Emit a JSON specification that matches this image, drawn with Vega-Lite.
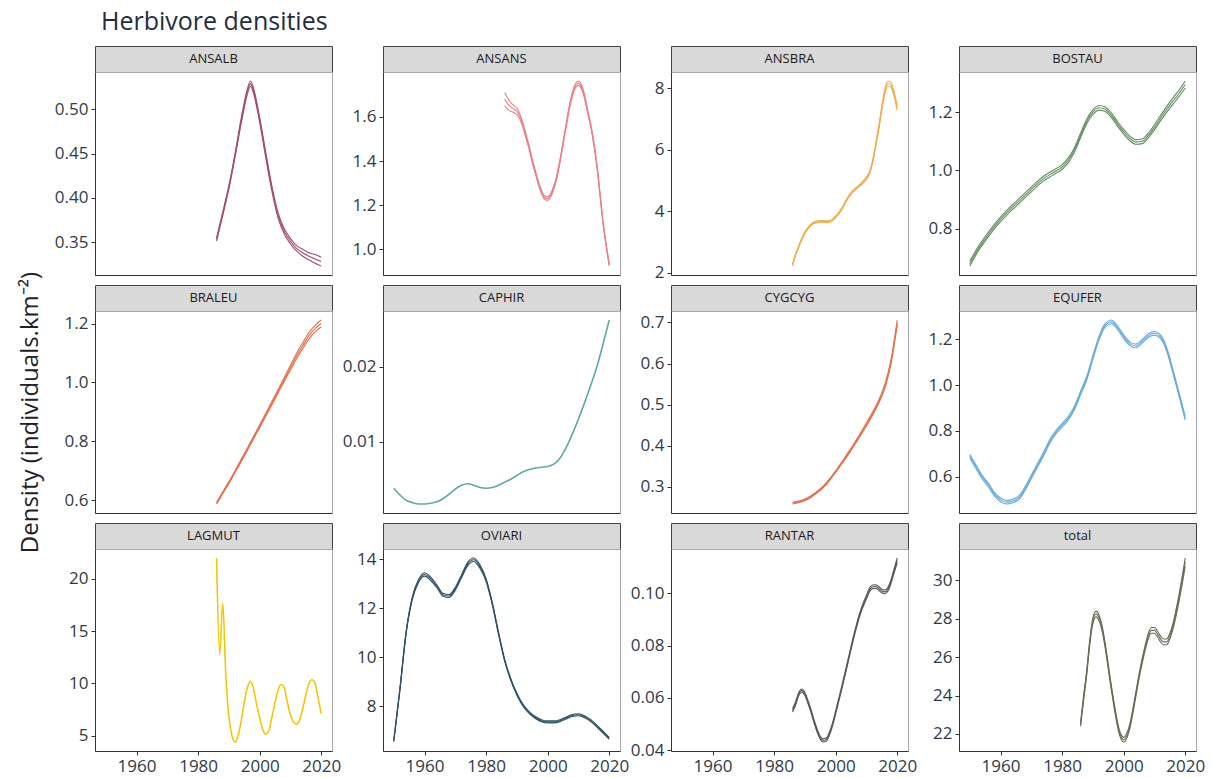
{
"$schema": "https://vega.github.io/schema/vega-lite/v6.json",
"background": "white",
"padding": {"left": 17, "top": 9, "right": 5, "bottom": 5},
"title": {"text": "Herbivore densities", "anchor": "start", "frame": "group", "fontSize": 25, "fontWeight": "normal", "font": "Open Sans", "color": "#1f2d3d", "offset": 11, "dx": 6},
"datasets": {
"labels": [{"sp":"ANSALB"},{"sp":"ANSANS"},{"sp":"ANSBRA"},{"sp":"BOSTAU"},{"sp":"BRALEU"},{"sp":"CAPHIR"},{"sp":"CYGCYG"},{"sp":"EQUFER"},{"sp":"LAGMUT"},{"sp":"OVIARI"},{"sp":"RANTAR"},{"sp":"total"}],
"curves": [
{"sp":"ANSALB","year":1986,"lo":0.351,"mid":0.353,"hi":0.355},
{"sp":"ANSALB","year":1988,"lo":0.380,"mid":0.382,"hi":0.384},
{"sp":"ANSALB","year":1990,"lo":0.410,"mid":0.412,"hi":0.414},
{"sp":"ANSALB","year":1992,"lo":0.446,"mid":0.448,"hi":0.450},
{"sp":"ANSALB","year":1994,"lo":0.484,"mid":0.487,"hi":0.490},
{"sp":"ANSALB","year":1996,"lo":0.517,"mid":0.520,"hi":0.523},
{"sp":"ANSALB","year":1997,"lo":0.526,"mid":0.529,"hi":0.532},
{"sp":"ANSALB","year":1998,"lo":0.518,"mid":0.521,"hi":0.524},
{"sp":"ANSALB","year":2000,"lo":0.485,"mid":0.488,"hi":0.491},
{"sp":"ANSALB","year":2002,"lo":0.445,"mid":0.448,"hi":0.451},
{"sp":"ANSALB","year":2004,"lo":0.407,"mid":0.410,"hi":0.413},
{"sp":"ANSALB","year":2006,"lo":0.377,"mid":0.380,"hi":0.383},
{"sp":"ANSALB","year":2008,"lo":0.359,"mid":0.362,"hi":0.365},
{"sp":"ANSALB","year":2010,"lo":0.348,"mid":0.351,"hi":0.354},
{"sp":"ANSALB","year":2012,"lo":0.340,"mid":0.343,"hi":0.346},
{"sp":"ANSALB","year":2014,"lo":0.334,"mid":0.338,"hi":0.342},
{"sp":"ANSALB","year":2016,"lo":0.330,"mid":0.334,"hi":0.338},
{"sp":"ANSALB","year":2018,"lo":0.326,"mid":0.331,"hi":0.336},
{"sp":"ANSALB","year":2020,"lo":0.323,"mid":0.328,"hi":0.333},
{"sp":"ANSANS","year":1986,"lo":1.65,"mid":1.68,"hi":1.71},
{"sp":"ANSANS","year":1987,"lo":1.635,"mid":1.66,"hi":1.685},
{"sp":"ANSANS","year":1988,"lo":1.625,"mid":1.645,"hi":1.665},
{"sp":"ANSANS","year":1989,"lo":1.619,"mid":1.635,"hi":1.651},
{"sp":"ANSANS","year":1990,"lo":1.611,"mid":1.625,"hi":1.639},
{"sp":"ANSANS","year":1991,"lo":1.588,"mid":1.60,"hi":1.612},
{"sp":"ANSANS","year":1992,"lo":1.55,"mid":1.56,"hi":1.57},
{"sp":"ANSANS","year":1993,"lo":1.50,"mid":1.51,"hi":1.52},
{"sp":"ANSANS","year":1994,"lo":1.452,"mid":1.46,"hi":1.468},
{"sp":"ANSANS","year":1995,"lo":1.392,"mid":1.40,"hi":1.408},
{"sp":"ANSANS","year":1996,"lo":1.342,"mid":1.35,"hi":1.358},
{"sp":"ANSANS","year":1997,"lo":1.292,"mid":1.30,"hi":1.308},
{"sp":"ANSANS","year":1998,"lo":1.252,"mid":1.26,"hi":1.268},
{"sp":"ANSANS","year":1999,"lo":1.227,"mid":1.235,"hi":1.243},
{"sp":"ANSANS","year":2000,"lo":1.222,"mid":1.23,"hi":1.238},
{"sp":"ANSANS","year":2001,"lo":1.237,"mid":1.245,"hi":1.253},
{"sp":"ANSANS","year":2002,"lo":1.272,"mid":1.28,"hi":1.288},
{"sp":"ANSANS","year":2003,"lo":1.322,"mid":1.33,"hi":1.338},
{"sp":"ANSANS","year":2004,"lo":1.392,"mid":1.40,"hi":1.408},
{"sp":"ANSANS","year":2005,"lo":1.472,"mid":1.48,"hi":1.488},
{"sp":"ANSANS","year":2006,"lo":1.552,"mid":1.56,"hi":1.568},
{"sp":"ANSANS","year":2007,"lo":1.632,"mid":1.64,"hi":1.648},
{"sp":"ANSANS","year":2008,"lo":1.69,"mid":1.70,"hi":1.71},
{"sp":"ANSANS","year":2009,"lo":1.73,"mid":1.74,"hi":1.75},
{"sp":"ANSANS","year":2010,"lo":1.742,"mid":1.752,"hi":1.762},
{"sp":"ANSANS","year":2011,"lo":1.725,"mid":1.735,"hi":1.745},
{"sp":"ANSANS","year":2012,"lo":1.68,"mid":1.69,"hi":1.70},
{"sp":"ANSANS","year":2013,"lo":1.617,"mid":1.625,"hi":1.633},
{"sp":"ANSANS","year":2014,"lo":1.552,"mid":1.56,"hi":1.568},
{"sp":"ANSANS","year":2015,"lo":1.472,"mid":1.48,"hi":1.488},
{"sp":"ANSANS","year":2016,"lo":1.372,"mid":1.38,"hi":1.388},
{"sp":"ANSANS","year":2017,"lo":1.243,"mid":1.25,"hi":1.257},
{"sp":"ANSANS","year":2018,"lo":1.114,"mid":1.12,"hi":1.126},
{"sp":"ANSANS","year":2019,"lo":1.014,"mid":1.02,"hi":1.026},
{"sp":"ANSANS","year":2020,"lo":0.925,"mid":0.93,"hi":0.935},
{"sp":"ANSBRA","year":1986,"lo":2.22,"mid":2.25,"hi":2.28},
{"sp":"ANSBRA","year":1987,"lo":2.57,"mid":2.60,"hi":2.63},
{"sp":"ANSBRA","year":1988,"lo":2.82,"mid":2.85,"hi":2.88},
{"sp":"ANSBRA","year":1989,"lo":3.07,"mid":3.10,"hi":3.13},
{"sp":"ANSBRA","year":1990,"lo":3.27,"mid":3.30,"hi":3.33},
{"sp":"ANSBRA","year":1991,"lo":3.42,"mid":3.45,"hi":3.48},
{"sp":"ANSBRA","year":1992,"lo":3.53,"mid":3.56,"hi":3.59},
{"sp":"ANSBRA","year":1993,"lo":3.60,"mid":3.63,"hi":3.66},
{"sp":"ANSBRA","year":1994,"lo":3.63,"mid":3.66,"hi":3.69},
{"sp":"ANSBRA","year":1995,"lo":3.64,"mid":3.67,"hi":3.70},
{"sp":"ANSBRA","year":1996,"lo":3.64,"mid":3.67,"hi":3.70},
{"sp":"ANSBRA","year":1997,"lo":3.63,"mid":3.66,"hi":3.69},
{"sp":"ANSBRA","year":1998,"lo":3.64,"mid":3.67,"hi":3.70},
{"sp":"ANSBRA","year":1999,"lo":3.69,"mid":3.72,"hi":3.75},
{"sp":"ANSBRA","year":2000,"lo":3.79,"mid":3.82,"hi":3.85},
{"sp":"ANSBRA","year":2001,"lo":3.90,"mid":3.93,"hi":3.96},
{"sp":"ANSBRA","year":2002,"lo":4.05,"mid":4.08,"hi":4.11},
{"sp":"ANSBRA","year":2003,"lo":4.24,"mid":4.27,"hi":4.30},
{"sp":"ANSBRA","year":2004,"lo":4.41,"mid":4.44,"hi":4.47},
{"sp":"ANSBRA","year":2005,"lo":4.55,"mid":4.58,"hi":4.61},
{"sp":"ANSBRA","year":2006,"lo":4.65,"mid":4.68,"hi":4.71},
{"sp":"ANSBRA","year":2007,"lo":4.74,"mid":4.77,"hi":4.80},
{"sp":"ANSBRA","year":2008,"lo":4.83,"mid":4.86,"hi":4.89},
{"sp":"ANSBRA","year":2009,"lo":4.91,"mid":4.95,"hi":4.99},
{"sp":"ANSBRA","year":2010,"lo":5.04,"mid":5.08,"hi":5.12},
{"sp":"ANSBRA","year":2011,"lo":5.21,"mid":5.25,"hi":5.29},
{"sp":"ANSBRA","year":2012,"lo":5.55,"mid":5.60,"hi":5.65},
{"sp":"ANSBRA","year":2013,"lo":6.09,"mid":6.15,"hi":6.21},
{"sp":"ANSBRA","year":2014,"lo":6.63,"mid":6.70,"hi":6.77},
{"sp":"ANSBRA","year":2015,"lo":7.27,"mid":7.35,"hi":7.43},
{"sp":"ANSBRA","year":2016,"lo":7.82,"mid":7.90,"hi":7.98},
{"sp":"ANSBRA","year":2017,"lo":8.07,"mid":8.15,"hi":8.23},
{"sp":"ANSBRA","year":2018,"lo":8.02,"mid":8.10,"hi":8.18},
{"sp":"ANSBRA","year":2019,"lo":7.72,"mid":7.80,"hi":7.88},
{"sp":"ANSBRA","year":2020,"lo":7.27,"mid":7.35,"hi":7.43},
{"sp":"BOSTAU","year":1950,"lo":0.672,"mid":0.680,"hi":0.688},
{"sp":"BOSTAU","year":1953,"lo":0.727,"mid":0.735,"hi":0.743},
{"sp":"BOSTAU","year":1956,"lo":0.772,"mid":0.780,"hi":0.788},
{"sp":"BOSTAU","year":1959,"lo":0.812,"mid":0.820,"hi":0.828},
{"sp":"BOSTAU","year":1962,"lo":0.847,"mid":0.855,"hi":0.863},
{"sp":"BOSTAU","year":1965,"lo":0.877,"mid":0.885,"hi":0.893},
{"sp":"BOSTAU","year":1968,"lo":0.907,"mid":0.915,"hi":0.923},
{"sp":"BOSTAU","year":1971,"lo":0.937,"mid":0.945,"hi":0.953},
{"sp":"BOSTAU","year":1974,"lo":0.964,"mid":0.972,"hi":0.980},
{"sp":"BOSTAU","year":1977,"lo":0.984,"mid":0.992,"hi":1.000},
{"sp":"BOSTAU","year":1980,"lo":1.004,"mid":1.012,"hi":1.020},
{"sp":"BOSTAU","year":1982,"lo":1.027,"mid":1.035,"hi":1.043},
{"sp":"BOSTAU","year":1984,"lo":1.062,"mid":1.070,"hi":1.078},
{"sp":"BOSTAU","year":1986,"lo":1.112,"mid":1.120,"hi":1.128},
{"sp":"BOSTAU","year":1988,"lo":1.160,"mid":1.168,"hi":1.176},
{"sp":"BOSTAU","year":1990,"lo":1.192,"mid":1.200,"hi":1.208},
{"sp":"BOSTAU","year":1992,"lo":1.207,"mid":1.215,"hi":1.223},
{"sp":"BOSTAU","year":1994,"lo":1.202,"mid":1.210,"hi":1.218},
{"sp":"BOSTAU","year":1996,"lo":1.182,"mid":1.190,"hi":1.198},
{"sp":"BOSTAU","year":1998,"lo":1.152,"mid":1.160,"hi":1.168},
{"sp":"BOSTAU","year":2000,"lo":1.125,"mid":1.133,"hi":1.141},
{"sp":"BOSTAU","year":2002,"lo":1.102,"mid":1.110,"hi":1.118},
{"sp":"BOSTAU","year":2004,"lo":1.090,"mid":1.098,"hi":1.106},
{"sp":"BOSTAU","year":2006,"lo":1.092,"mid":1.100,"hi":1.108},
{"sp":"BOSTAU","year":2008,"lo":1.112,"mid":1.120,"hi":1.128},
{"sp":"BOSTAU","year":2010,"lo":1.139,"mid":1.148,"hi":1.157},
{"sp":"BOSTAU","year":2012,"lo":1.171,"mid":1.180,"hi":1.189},
{"sp":"BOSTAU","year":2014,"lo":1.200,"mid":1.210,"hi":1.220},
{"sp":"BOSTAU","year":2016,"lo":1.227,"mid":1.238,"hi":1.249},
{"sp":"BOSTAU","year":2018,"lo":1.254,"mid":1.265,"hi":1.276},
{"sp":"BOSTAU","year":2020,"lo":1.283,"mid":1.295,"hi":1.307},
{"sp":"BRALEU","year":1986,"lo":0.587,"mid":0.590,"hi":0.593},
{"sp":"BRALEU","year":1988,"lo":0.622,"mid":0.625,"hi":0.628},
{"sp":"BRALEU","year":1990,"lo":0.657,"mid":0.660,"hi":0.663},
{"sp":"BRALEU","year":1992,"lo":0.694,"mid":0.697,"hi":0.700},
{"sp":"BRALEU","year":1994,"lo":0.731,"mid":0.735,"hi":0.739},
{"sp":"BRALEU","year":1996,"lo":0.769,"mid":0.773,"hi":0.777},
{"sp":"BRALEU","year":1998,"lo":0.808,"mid":0.812,"hi":0.816},
{"sp":"BRALEU","year":2000,"lo":0.846,"mid":0.851,"hi":0.856},
{"sp":"BRALEU","year":2002,"lo":0.885,"mid":0.890,"hi":0.895},
{"sp":"BRALEU","year":2004,"lo":0.924,"mid":0.930,"hi":0.936},
{"sp":"BRALEU","year":2006,"lo":0.964,"mid":0.970,"hi":0.976},
{"sp":"BRALEU","year":2008,"lo":1.003,"mid":1.010,"hi":1.017},
{"sp":"BRALEU","year":2010,"lo":1.042,"mid":1.050,"hi":1.058},
{"sp":"BRALEU","year":2012,"lo":1.081,"mid":1.090,"hi":1.099},
{"sp":"BRALEU","year":2014,"lo":1.115,"mid":1.125,"hi":1.135},
{"sp":"BRALEU","year":2016,"lo":1.147,"mid":1.158,"hi":1.169},
{"sp":"BRALEU","year":2018,"lo":1.172,"mid":1.183,"hi":1.194},
{"sp":"BRALEU","year":2020,"lo":1.188,"mid":1.200,"hi":1.212},
{"sp":"CAPHIR","year":1950,"mid":0.0038},
{"sp":"CAPHIR","year":1952,"mid":0.0029},
{"sp":"CAPHIR","year":1954,"mid":0.0022},
{"sp":"CAPHIR","year":1956,"mid":0.0019},
{"sp":"CAPHIR","year":1958,"mid":0.0017},
{"sp":"CAPHIR","year":1960,"mid":0.0017},
{"sp":"CAPHIR","year":1962,"mid":0.0018},
{"sp":"CAPHIR","year":1964,"mid":0.0020},
{"sp":"CAPHIR","year":1966,"mid":0.0024},
{"sp":"CAPHIR","year":1968,"mid":0.0030},
{"sp":"CAPHIR","year":1970,"mid":0.0037},
{"sp":"CAPHIR","year":1972,"mid":0.0042},
{"sp":"CAPHIR","year":1974,"mid":0.0044},
{"sp":"CAPHIR","year":1976,"mid":0.0042},
{"sp":"CAPHIR","year":1978,"mid":0.0039},
{"sp":"CAPHIR","year":1980,"mid":0.0038},
{"sp":"CAPHIR","year":1982,"mid":0.0039},
{"sp":"CAPHIR","year":1984,"mid":0.0042},
{"sp":"CAPHIR","year":1986,"mid":0.0046},
{"sp":"CAPHIR","year":1988,"mid":0.0050},
{"sp":"CAPHIR","year":1990,"mid":0.0055},
{"sp":"CAPHIR","year":1992,"mid":0.0060},
{"sp":"CAPHIR","year":1994,"mid":0.0063},
{"sp":"CAPHIR","year":1996,"mid":0.0065},
{"sp":"CAPHIR","year":1998,"mid":0.0066},
{"sp":"CAPHIR","year":2000,"mid":0.0067},
{"sp":"CAPHIR","year":2002,"mid":0.0070},
{"sp":"CAPHIR","year":2004,"mid":0.0078},
{"sp":"CAPHIR","year":2006,"mid":0.0092},
{"sp":"CAPHIR","year":2008,"mid":0.0110},
{"sp":"CAPHIR","year":2010,"mid":0.0130},
{"sp":"CAPHIR","year":2012,"mid":0.0152},
{"sp":"CAPHIR","year":2014,"mid":0.0175},
{"sp":"CAPHIR","year":2016,"mid":0.0200},
{"sp":"CAPHIR","year":2018,"mid":0.0230},
{"sp":"CAPHIR","year":2020,"mid":0.0262},
{"sp":"CYGCYG","year":1986,"lo":0.258,"mid":0.260,"hi":0.262},
{"sp":"CYGCYG","year":1988,"lo":0.261,"mid":0.263,"hi":0.265},
{"sp":"CYGCYG","year":1990,"lo":0.266,"mid":0.268,"hi":0.270},
{"sp":"CYGCYG","year":1992,"lo":0.274,"mid":0.276,"hi":0.278},
{"sp":"CYGCYG","year":1994,"lo":0.285,"mid":0.287,"hi":0.289},
{"sp":"CYGCYG","year":1996,"lo":0.298,"mid":0.300,"hi":0.302},
{"sp":"CYGCYG","year":1998,"lo":0.315,"mid":0.317,"hi":0.319},
{"sp":"CYGCYG","year":2000,"lo":0.335,"mid":0.337,"hi":0.339},
{"sp":"CYGCYG","year":2002,"lo":0.356,"mid":0.358,"hi":0.360},
{"sp":"CYGCYG","year":2004,"lo":0.377,"mid":0.380,"hi":0.383},
{"sp":"CYGCYG","year":2006,"lo":0.400,"mid":0.403,"hi":0.406},
{"sp":"CYGCYG","year":2008,"lo":0.424,"mid":0.427,"hi":0.430},
{"sp":"CYGCYG","year":2010,"lo":0.448,"mid":0.452,"hi":0.456},
{"sp":"CYGCYG","year":2012,"lo":0.474,"mid":0.478,"hi":0.482},
{"sp":"CYGCYG","year":2014,"lo":0.503,"mid":0.507,"hi":0.511},
{"sp":"CYGCYG","year":2016,"lo":0.540,"mid":0.545,"hi":0.550},
{"sp":"CYGCYG","year":2018,"lo":0.600,"mid":0.605,"hi":0.610},
{"sp":"CYGCYG","year":2020,"lo":0.694,"mid":0.700,"hi":0.706},
{"sp":"EQUFER","year":1950,"lo":0.682,"mid":0.690,"hi":0.698},
{"sp":"EQUFER","year":1952,"lo":0.637,"mid":0.645,"hi":0.653},
{"sp":"EQUFER","year":1954,"lo":0.592,"mid":0.600,"hi":0.608},
{"sp":"EQUFER","year":1956,"lo":0.557,"mid":0.565,"hi":0.573},
{"sp":"EQUFER","year":1958,"lo":0.517,"mid":0.525,"hi":0.533},
{"sp":"EQUFER","year":1960,"lo":0.492,"mid":0.500,"hi":0.508},
{"sp":"EQUFER","year":1962,"lo":0.482,"mid":0.490,"hi":0.498},
{"sp":"EQUFER","year":1964,"lo":0.487,"mid":0.495,"hi":0.503},
{"sp":"EQUFER","year":1966,"lo":0.502,"mid":0.510,"hi":0.518},
{"sp":"EQUFER","year":1968,"lo":0.542,"mid":0.550,"hi":0.558},
{"sp":"EQUFER","year":1970,"lo":0.592,"mid":0.600,"hi":0.608},
{"sp":"EQUFER","year":1972,"lo":0.642,"mid":0.650,"hi":0.658},
{"sp":"EQUFER","year":1974,"lo":0.692,"mid":0.700,"hi":0.708},
{"sp":"EQUFER","year":1976,"lo":0.747,"mid":0.755,"hi":0.763},
{"sp":"EQUFER","year":1978,"lo":0.787,"mid":0.795,"hi":0.803},
{"sp":"EQUFER","year":1980,"lo":0.817,"mid":0.825,"hi":0.833},
{"sp":"EQUFER","year":1982,"lo":0.847,"mid":0.855,"hi":0.863},
{"sp":"EQUFER","year":1984,"lo":0.892,"mid":0.900,"hi":0.908},
{"sp":"EQUFER","year":1986,"lo":0.957,"mid":0.965,"hi":0.973},
{"sp":"EQUFER","year":1988,"lo":1.022,"mid":1.030,"hi":1.038},
{"sp":"EQUFER","year":1990,"lo":1.112,"mid":1.120,"hi":1.128},
{"sp":"EQUFER","year":1992,"lo":1.197,"mid":1.205,"hi":1.213},
{"sp":"EQUFER","year":1994,"lo":1.252,"mid":1.260,"hi":1.268},
{"sp":"EQUFER","year":1996,"lo":1.267,"mid":1.275,"hi":1.283},
{"sp":"EQUFER","year":1998,"lo":1.242,"mid":1.250,"hi":1.258},
{"sp":"EQUFER","year":2000,"lo":1.202,"mid":1.210,"hi":1.218},
{"sp":"EQUFER","year":2002,"lo":1.172,"mid":1.180,"hi":1.188},
{"sp":"EQUFER","year":2004,"lo":1.162,"mid":1.170,"hi":1.178},
{"sp":"EQUFER","year":2006,"lo":1.182,"mid":1.190,"hi":1.198},
{"sp":"EQUFER","year":2008,"lo":1.207,"mid":1.215,"hi":1.223},
{"sp":"EQUFER","year":2010,"lo":1.217,"mid":1.225,"hi":1.233},
{"sp":"EQUFER","year":2012,"lo":1.202,"mid":1.210,"hi":1.218},
{"sp":"EQUFER","year":2014,"lo":1.147,"mid":1.155,"hi":1.163},
{"sp":"EQUFER","year":2016,"lo":1.052,"mid":1.060,"hi":1.068},
{"sp":"EQUFER","year":2018,"lo":0.952,"mid":0.960,"hi":0.968},
{"sp":"EQUFER","year":2020,"lo":0.847,"mid":0.855,"hi":0.863},
{"sp":"LAGMUT","year":1986,"mid":22.0},
{"sp":"LAGMUT","year":1987,"mid":12.8},
{"sp":"LAGMUT","year":1988,"mid":17.7},
{"sp":"LAGMUT","year":1989,"mid":10.8},
{"sp":"LAGMUT","year":1990,"mid":6.8},
{"sp":"LAGMUT","year":1991,"mid":5.0},
{"sp":"LAGMUT","year":1992,"mid":4.4},
{"sp":"LAGMUT","year":1993,"mid":5.0},
{"sp":"LAGMUT","year":1994,"mid":6.4},
{"sp":"LAGMUT","year":1995,"mid":8.2},
{"sp":"LAGMUT","year":1996,"mid":9.6},
{"sp":"LAGMUT","year":1997,"mid":10.2},
{"sp":"LAGMUT","year":1998,"mid":9.5},
{"sp":"LAGMUT","year":1999,"mid":8.0},
{"sp":"LAGMUT","year":2000,"mid":6.7},
{"sp":"LAGMUT","year":2001,"mid":5.6},
{"sp":"LAGMUT","year":2002,"mid":5.15},
{"sp":"LAGMUT","year":2003,"mid":5.5},
{"sp":"LAGMUT","year":2004,"mid":6.8},
{"sp":"LAGMUT","year":2005,"mid":8.2},
{"sp":"LAGMUT","year":2006,"mid":9.4},
{"sp":"LAGMUT","year":2007,"mid":9.9},
{"sp":"LAGMUT","year":2008,"mid":9.6},
{"sp":"LAGMUT","year":2009,"mid":8.2},
{"sp":"LAGMUT","year":2010,"mid":7.0},
{"sp":"LAGMUT","year":2011,"mid":6.3},
{"sp":"LAGMUT","year":2012,"mid":6.1},
{"sp":"LAGMUT","year":2013,"mid":6.5},
{"sp":"LAGMUT","year":2014,"mid":7.6},
{"sp":"LAGMUT","year":2015,"mid":8.9},
{"sp":"LAGMUT","year":2016,"mid":10.0},
{"sp":"LAGMUT","year":2017,"mid":10.35},
{"sp":"LAGMUT","year":2018,"mid":10.0},
{"sp":"LAGMUT","year":2019,"mid":8.6},
{"sp":"LAGMUT","year":2020,"mid":7.1},
{"sp":"OVIARI","year":1950,"lo":6.55,"mid":6.6,"hi":6.65},
{"sp":"OVIARI","year":1952,"lo":8.65,"mid":8.7,"hi":8.75},
{"sp":"OVIARI","year":1954,"lo":10.95,"mid":11.0,"hi":11.05},
{"sp":"OVIARI","year":1956,"lo":12.34,"mid":12.4,"hi":12.46},
{"sp":"OVIARI","year":1958,"lo":13.04,"mid":13.1,"hi":13.16},
{"sp":"OVIARI","year":1960,"lo":13.31,"mid":13.38,"hi":13.45},
{"sp":"OVIARI","year":1962,"lo":13.13,"mid":13.2,"hi":13.27},
{"sp":"OVIARI","year":1964,"lo":12.84,"mid":12.9,"hi":12.96},
{"sp":"OVIARI","year":1966,"lo":12.49,"mid":12.55,"hi":12.61},
{"sp":"OVIARI","year":1968,"lo":12.44,"mid":12.5,"hi":12.56},
{"sp":"OVIARI","year":1970,"lo":12.74,"mid":12.8,"hi":12.86},
{"sp":"OVIARI","year":1972,"lo":13.24,"mid":13.3,"hi":13.36},
{"sp":"OVIARI","year":1974,"lo":13.73,"mid":13.8,"hi":13.87},
{"sp":"OVIARI","year":1976,"lo":13.91,"mid":13.98,"hi":14.05},
{"sp":"OVIARI","year":1978,"lo":13.63,"mid":13.7,"hi":13.77},
{"sp":"OVIARI","year":1980,"lo":13.09,"mid":13.15,"hi":13.21},
{"sp":"OVIARI","year":1982,"lo":12.15,"mid":12.2,"hi":12.25},
{"sp":"OVIARI","year":1984,"lo":10.95,"mid":11.0,"hi":11.05},
{"sp":"OVIARI","year":1986,"lo":9.86,"mid":9.9,"hi":9.94},
{"sp":"OVIARI","year":1988,"lo":9.06,"mid":9.1,"hi":9.14},
{"sp":"OVIARI","year":1990,"lo":8.46,"mid":8.5,"hi":8.54},
{"sp":"OVIARI","year":1992,"lo":8.01,"mid":8.05,"hi":8.09},
{"sp":"OVIARI","year":1994,"lo":7.71,"mid":7.75,"hi":7.79},
{"sp":"OVIARI","year":1996,"lo":7.51,"mid":7.55,"hi":7.59},
{"sp":"OVIARI","year":1998,"lo":7.38,"mid":7.42,"hi":7.46},
{"sp":"OVIARI","year":2000,"lo":7.33,"mid":7.37,"hi":7.41},
{"sp":"OVIARI","year":2002,"lo":7.33,"mid":7.37,"hi":7.41},
{"sp":"OVIARI","year":2004,"lo":7.38,"mid":7.42,"hi":7.46},
{"sp":"OVIARI","year":2006,"lo":7.49,"mid":7.53,"hi":7.57},
{"sp":"OVIARI","year":2008,"lo":7.59,"mid":7.63,"hi":7.67},
{"sp":"OVIARI","year":2010,"lo":7.62,"mid":7.66,"hi":7.70},
{"sp":"OVIARI","year":2012,"lo":7.54,"mid":7.58,"hi":7.62},
{"sp":"OVIARI","year":2014,"lo":7.38,"mid":7.42,"hi":7.46},
{"sp":"OVIARI","year":2016,"lo":7.16,"mid":7.2,"hi":7.24},
{"sp":"OVIARI","year":2018,"lo":6.91,"mid":6.95,"hi":6.99},
{"sp":"OVIARI","year":2020,"lo":6.66,"mid":6.7,"hi":6.74},
{"sp":"RANTAR","year":1986,"lo":0.0546,"mid":0.0553,"hi":0.0560},
{"sp":"RANTAR","year":1987,"lo":0.0573,"mid":0.0580,"hi":0.0587},
{"sp":"RANTAR","year":1988,"lo":0.0609,"mid":0.0615,"hi":0.0621},
{"sp":"RANTAR","year":1989,"lo":0.0622,"mid":0.0628,"hi":0.0634},
{"sp":"RANTAR","year":1990,"lo":0.0609,"mid":0.0615,"hi":0.0621},
{"sp":"RANTAR","year":1991,"lo":0.0579,"mid":0.0585,"hi":0.0591},
{"sp":"RANTAR","year":1992,"lo":0.0544,"mid":0.0550,"hi":0.0556},
{"sp":"RANTAR","year":1993,"lo":0.0504,"mid":0.0510,"hi":0.0516},
{"sp":"RANTAR","year":1994,"lo":0.0469,"mid":0.0475,"hi":0.0481},
{"sp":"RANTAR","year":1995,"lo":0.0442,"mid":0.0448,"hi":0.0454},
{"sp":"RANTAR","year":1996,"lo":0.0432,"mid":0.0438,"hi":0.0444},
{"sp":"RANTAR","year":1997,"lo":0.0436,"mid":0.0442,"hi":0.0448},
{"sp":"RANTAR","year":1998,"lo":0.0459,"mid":0.0465,"hi":0.0471},
{"sp":"RANTAR","year":1999,"lo":0.0494,"mid":0.0500,"hi":0.0506},
{"sp":"RANTAR","year":2000,"lo":0.0539,"mid":0.0545,"hi":0.0551},
{"sp":"RANTAR","year":2002,"lo":0.0634,"mid":0.0640,"hi":0.0646},
{"sp":"RANTAR","year":2004,"lo":0.0734,"mid":0.0740,"hi":0.0746},
{"sp":"RANTAR","year":2006,"lo":0.0834,"mid":0.0840,"hi":0.0846},
{"sp":"RANTAR","year":2008,"lo":0.0919,"mid":0.0925,"hi":0.0931},
{"sp":"RANTAR","year":2010,"lo":0.0978,"mid":0.0985,"hi":0.0992},
{"sp":"RANTAR","year":2011,"lo":0.1005,"mid":0.1012,"hi":0.1019},
{"sp":"RANTAR","year":2012,"lo":0.1017,"mid":0.1024,"hi":0.1031},
{"sp":"RANTAR","year":2013,"lo":0.1018,"mid":0.1025,"hi":0.1032},
{"sp":"RANTAR","year":2014,"lo":0.1011,"mid":0.1018,"hi":0.1025},
{"sp":"RANTAR","year":2015,"lo":0.1001,"mid":0.1008,"hi":0.1015},
{"sp":"RANTAR","year":2016,"lo":0.0998,"mid":0.1005,"hi":0.1012},
{"sp":"RANTAR","year":2017,"lo":0.1008,"mid":0.1015,"hi":0.1022},
{"sp":"RANTAR","year":2018,"lo":0.1038,"mid":0.1045,"hi":0.1052},
{"sp":"RANTAR","year":2019,"lo":0.1077,"mid":0.1085,"hi":0.1093},
{"sp":"RANTAR","year":2020,"lo":0.1116,"mid":0.1125,"hi":0.1134},
{"sp":"total","year":1986,"lo":22.4,"mid":22.5,"hi":22.6},
{"sp":"total","year":1987,"lo":23.78,"mid":23.9,"hi":24.02},
{"sp":"total","year":1988,"lo":25.08,"mid":25.2,"hi":25.32},
{"sp":"total","year":1989,"lo":26.68,"mid":26.8,"hi":26.92},
{"sp":"total","year":1990,"lo":27.75,"mid":27.9,"hi":28.05},
{"sp":"total","year":1991,"lo":28.1,"mid":28.25,"hi":28.4},
{"sp":"total","year":1992,"lo":27.9,"mid":28.05,"hi":28.2},
{"sp":"total","year":1993,"lo":27.36,"mid":27.5,"hi":27.64},
{"sp":"total","year":1994,"lo":26.48,"mid":26.6,"hi":26.72},
{"sp":"total","year":1995,"lo":25.38,"mid":25.5,"hi":25.62},
{"sp":"total","year":1996,"lo":24.28,"mid":24.4,"hi":24.52},
{"sp":"total","year":1997,"lo":23.28,"mid":23.4,"hi":23.52},
{"sp":"total","year":1998,"lo":22.38,"mid":22.5,"hi":22.62},
{"sp":"total","year":1999,"lo":21.78,"mid":21.9,"hi":22.02},
{"sp":"total","year":2000,"lo":21.58,"mid":21.7,"hi":21.82},
{"sp":"total","year":2001,"lo":21.78,"mid":21.9,"hi":22.02},
{"sp":"total","year":2002,"lo":22.28,"mid":22.4,"hi":22.52},
{"sp":"total","year":2003,"lo":23.08,"mid":23.2,"hi":23.32},
{"sp":"total","year":2004,"lo":23.98,"mid":24.1,"hi":24.22},
{"sp":"total","year":2005,"lo":24.88,"mid":25.0,"hi":25.12},
{"sp":"total","year":2006,"lo":25.68,"mid":25.8,"hi":25.92},
{"sp":"total","year":2007,"lo":26.37,"mid":26.5,"hi":26.63},
{"sp":"total","year":2008,"lo":26.96,"mid":27.1,"hi":27.24},
{"sp":"total","year":2009,"lo":27.25,"mid":27.4,"hi":27.55},
{"sp":"total","year":2010,"lo":27.25,"mid":27.4,"hi":27.55},
{"sp":"total","year":2011,"lo":27.05,"mid":27.2,"hi":27.35},
{"sp":"total","year":2012,"lo":26.8,"mid":26.95,"hi":27.1},
{"sp":"total","year":2013,"lo":26.65,"mid":26.8,"hi":26.95},
{"sp":"total","year":2014,"lo":26.65,"mid":26.8,"hi":26.95},
{"sp":"total","year":2015,"lo":26.95,"mid":27.1,"hi":27.25},
{"sp":"total","year":2016,"lo":27.45,"mid":27.6,"hi":27.75},
{"sp":"total","year":2017,"lo":28.13,"mid":28.3,"hi":28.47},
{"sp":"total","year":2018,"lo":28.92,"mid":29.1,"hi":29.28},
{"sp":"total","year":2019,"lo":29.8,"mid":30.0,"hi":30.2},
{"sp":"total","year":2020,"lo":30.73,"mid":30.95,"hi":31.17}
]
},
"columns": 4,
"spacing": {"row": 0, "column": 51},
"align": "each",
"bounds": "flush",
"resolve": {"scale": {"x": "independent", "y": "independent"}, "axis": {"x": "independent", "y": "independent"}},
"concat": [
{"width":237,"height":26,"data":{"name":"labels"},"transform":[{"filter":{"field":"sp","equal":"ANSALB"}}],"mark":{"type":"text","fontSize":13,"font":"Open Sans","color":"#1a1a1a"},"encoding":{"text":{"field":"sp"}},"view":{"fill":"#d9d9d9","stroke":"#444"}},
{"width":237,"height":26,"data":{"name":"labels"},"transform":[{"filter":{"field":"sp","equal":"ANSANS"}}],"mark":{"type":"text","fontSize":13,"font":"Open Sans","color":"#1a1a1a"},"encoding":{"text":{"field":"sp"}},"view":{"fill":"#d9d9d9","stroke":"#444"}},
{"width":237,"height":26,"data":{"name":"labels"},"transform":[{"filter":{"field":"sp","equal":"ANSBRA"}}],"mark":{"type":"text","fontSize":13,"font":"Open Sans","color":"#1a1a1a"},"encoding":{"text":{"field":"sp"}},"view":{"fill":"#d9d9d9","stroke":"#444"}},
{"width":237,"height":26,"data":{"name":"labels"},"transform":[{"filter":{"field":"sp","equal":"BOSTAU"}}],"mark":{"type":"text","fontSize":13,"font":"Open Sans","color":"#1a1a1a"},"encoding":{"text":{"field":"sp"}},"view":{"fill":"#d9d9d9","stroke":"#444"}},

{"width":237,"height":203,"data":{"name":"curves"},"transform":[{"filter":{"field":"sp","equal":"ANSALB"}},{"fold":["lo","mid","hi"],"as":["band","value"]}],"mark":{"type":"line","color":"#a04f69","strokeWidth":1.1,"interpolate":"monotone"},"encoding":{"x":{"field":"year","type":"quantitative","scale":{"domain":[1946.5,2023.5],"nice":false},"axis":{"labels":false,"ticks":false,"title":null}},"y":{"field":"value","type":"quantitative","scale":{"zero":false,"nice":false,"padding":9},"axis":{"values":[0.35,0.4,0.45,0.5],"format":".2f","title":null}},"detail":{"field":"band"}}},
{"width":237,"height":203,"data":{"name":"curves"},"transform":[{"filter":{"field":"sp","equal":"ANSANS"}},{"fold":["lo","mid","hi"],"as":["band","value"]}],"mark":{"type":"line","color":"#e9808a","strokeWidth":1.1,"interpolate":"monotone"},"encoding":{"x":{"field":"year","type":"quantitative","scale":{"domain":[1946.5,2023.5],"nice":false},"axis":{"labels":false,"ticks":false,"title":null}},"y":{"field":"value","type":"quantitative","scale":{"zero":false,"nice":false,"padding":9},"axis":{"values":[1.0,1.2,1.4,1.6],"format":".1f","title":null}},"detail":{"field":"band"}}},
{"width":237,"height":203,"data":{"name":"curves"},"transform":[{"filter":{"field":"sp","equal":"ANSBRA"}},{"fold":["lo","mid","hi"],"as":["band","value"]}],"mark":{"type":"line","color":"#ecb155","strokeWidth":1.1,"interpolate":"monotone"},"encoding":{"x":{"field":"year","type":"quantitative","scale":{"domain":[1946.5,2023.5],"nice":false},"axis":{"labels":false,"ticks":false,"title":null}},"y":{"field":"value","type":"quantitative","scale":{"zero":false,"nice":false,"padding":9},"axis":{"values":[2,4,6,8],"format":"d","title":null}},"detail":{"field":"band"}}},
{"width":237,"height":203,"data":{"name":"curves"},"transform":[{"filter":{"field":"sp","equal":"BOSTAU"}},{"fold":["lo","mid","hi"],"as":["band","value"]}],"mark":{"type":"line","color":"#5f8d5b","strokeWidth":1.1,"interpolate":"monotone"},"encoding":{"x":{"field":"year","type":"quantitative","scale":{"domain":[1946.5,2023.5],"nice":false},"axis":{"labels":false,"ticks":false,"title":null}},"y":{"field":"value","type":"quantitative","scale":{"zero":false,"nice":false,"padding":9},"axis":{"values":[0.8,1.0,1.2],"format":".1f","title":null}},"detail":{"field":"band"}}},

{"width":237,"height":10,"data":{"values":[{"a":1}]},"mark":{"type":"text","text":""},"encoding":{},"view":{"stroke":null}},
{"width":237,"height":10,"data":{"values":[{"a":1}]},"mark":{"type":"text","text":""},"encoding":{},"view":{"stroke":null}},
{"width":237,"height":10,"data":{"values":[{"a":1}]},"mark":{"type":"text","text":""},"encoding":{},"view":{"stroke":null}},
{"width":237,"height":10,"data":{"values":[{"a":1}]},"mark":{"type":"text","text":""},"encoding":{},"view":{"stroke":null}},

{"width":237,"height":26,"data":{"name":"labels"},"transform":[{"filter":{"field":"sp","equal":"BRALEU"}}],"mark":{"type":"text","fontSize":13,"font":"Open Sans","color":"#1a1a1a"},"encoding":{"text":{"field":"sp"}},"view":{"fill":"#d9d9d9","stroke":"#444"}},
{"width":237,"height":26,"data":{"name":"labels"},"transform":[{"filter":{"field":"sp","equal":"CAPHIR"}}],"mark":{"type":"text","fontSize":13,"font":"Open Sans","color":"#1a1a1a"},"encoding":{"text":{"field":"sp"}},"view":{"fill":"#d9d9d9","stroke":"#444"}},
{"width":237,"height":26,"data":{"name":"labels"},"transform":[{"filter":{"field":"sp","equal":"CYGCYG"}}],"mark":{"type":"text","fontSize":13,"font":"Open Sans","color":"#1a1a1a"},"encoding":{"text":{"field":"sp"}},"view":{"fill":"#d9d9d9","stroke":"#444"}},
{"width":237,"height":26,"data":{"name":"labels"},"transform":[{"filter":{"field":"sp","equal":"EQUFER"}}],"mark":{"type":"text","fontSize":13,"font":"Open Sans","color":"#1a1a1a"},"encoding":{"text":{"field":"sp"}},"view":{"fill":"#d9d9d9","stroke":"#444"}},

{"width":237,"height":202,"data":{"name":"curves"},"transform":[{"filter":{"field":"sp","equal":"BRALEU"}},{"fold":["lo","mid","hi"],"as":["band","value"]}],"mark":{"type":"line","color":"#e3704c","strokeWidth":1.1,"interpolate":"monotone"},"encoding":{"x":{"field":"year","type":"quantitative","scale":{"domain":[1946.5,2023.5],"nice":false},"axis":{"labels":false,"ticks":false,"title":null}},"y":{"field":"value","type":"quantitative","scale":{"zero":false,"nice":false,"padding":9},"axis":{"values":[0.6,0.8,1.0,1.2],"format":".1f","title":"Density  (individuals.km⁻²)","titleFontSize":24,"titleFontWeight":"normal","titleFont":"Open Sans","titleColor":"#222222","minExtent":42,"titlePadding":11}},"detail":{"field":"band"}}},
{"width":237,"height":202,"data":{"name":"curves"},"transform":[{"filter":{"field":"sp","equal":"CAPHIR"}},{"fold":["lo","mid","hi"],"as":["band","value"]}],"mark":{"type":"line","color":"#5fa9a3","strokeWidth":1.6,"interpolate":"monotone"},"encoding":{"x":{"field":"year","type":"quantitative","scale":{"domain":[1946.5,2023.5],"nice":false},"axis":{"labels":false,"ticks":false,"title":null}},"y":{"field":"value","type":"quantitative","scale":{"zero":false,"nice":false,"padding":9},"axis":{"values":[0.01,0.02],"format":".2f","title":null}},"detail":{"field":"band"}}},
{"width":237,"height":202,"data":{"name":"curves"},"transform":[{"filter":{"field":"sp","equal":"CYGCYG"}},{"fold":["lo","mid","hi"],"as":["band","value"]}],"mark":{"type":"line","color":"#e2714f","strokeWidth":1.1,"interpolate":"monotone"},"encoding":{"x":{"field":"year","type":"quantitative","scale":{"domain":[1946.5,2023.5],"nice":false},"axis":{"labels":false,"ticks":false,"title":null}},"y":{"field":"value","type":"quantitative","scale":{"zero":false,"nice":false,"padding":9},"axis":{"values":[0.3,0.4,0.5,0.6,0.7],"format":".1f","title":null}},"detail":{"field":"band"}}},
{"width":237,"height":202,"data":{"name":"curves"},"transform":[{"filter":{"field":"sp","equal":"EQUFER"}},{"fold":["lo","mid","hi"],"as":["band","value"]}],"mark":{"type":"line","color":"#6aaad6","strokeWidth":1.1,"interpolate":"monotone"},"encoding":{"x":{"field":"year","type":"quantitative","scale":{"domain":[1946.5,2023.5],"nice":false},"axis":{"labels":false,"ticks":false,"title":null}},"y":{"field":"value","type":"quantitative","scale":{"zero":false,"nice":false,"padding":9},"axis":{"values":[0.6,0.8,1.0,1.2],"format":".1f","title":null}},"detail":{"field":"band"}}},

{"width":237,"height":10,"data":{"values":[{"a":1}]},"mark":{"type":"text","text":""},"encoding":{},"view":{"stroke":null}},
{"width":237,"height":10,"data":{"values":[{"a":1}]},"mark":{"type":"text","text":""},"encoding":{},"view":{"stroke":null}},
{"width":237,"height":10,"data":{"values":[{"a":1}]},"mark":{"type":"text","text":""},"encoding":{},"view":{"stroke":null}},
{"width":237,"height":10,"data":{"values":[{"a":1}]},"mark":{"type":"text","text":""},"encoding":{},"view":{"stroke":null}},

{"width":237,"height":26,"data":{"name":"labels"},"transform":[{"filter":{"field":"sp","equal":"LAGMUT"}}],"mark":{"type":"text","fontSize":13,"font":"Open Sans","color":"#1a1a1a"},"encoding":{"text":{"field":"sp"}},"view":{"fill":"#d9d9d9","stroke":"#444"}},
{"width":237,"height":26,"data":{"name":"labels"},"transform":[{"filter":{"field":"sp","equal":"OVIARI"}}],"mark":{"type":"text","fontSize":13,"font":"Open Sans","color":"#1a1a1a"},"encoding":{"text":{"field":"sp"}},"view":{"fill":"#d9d9d9","stroke":"#444"}},
{"width":237,"height":26,"data":{"name":"labels"},"transform":[{"filter":{"field":"sp","equal":"RANTAR"}}],"mark":{"type":"text","fontSize":13,"font":"Open Sans","color":"#1a1a1a"},"encoding":{"text":{"field":"sp"}},"view":{"fill":"#d9d9d9","stroke":"#444"}},
{"width":237,"height":26,"data":{"name":"labels"},"transform":[{"filter":{"field":"sp","equal":"total"}}],"mark":{"type":"text","fontSize":13,"font":"Open Sans","color":"#1a1a1a"},"encoding":{"text":{"field":"sp"}},"view":{"fill":"#d9d9d9","stroke":"#444"}},

{"width":237,"height":202,"data":{"name":"curves"},"transform":[{"filter":{"field":"sp","equal":"LAGMUT"}},{"fold":["lo","mid","hi"],"as":["band","value"]}],"mark":{"type":"line","color":"#f0c808","strokeWidth":1.6,"interpolate":"monotone"},"encoding":{"x":{"field":"year","type":"quantitative","scale":{"domain":[1946.5,2023.5],"nice":false},"axis":{"values":[1960,1980,2000,2020],"format":"d","title":null}},"y":{"field":"value","type":"quantitative","scale":{"zero":false,"nice":false,"padding":9},"axis":{"values":[5,10,15,20],"format":"d","title":null}},"detail":{"field":"band"}}},
{"width":237,"height":202,"data":{"name":"curves"},"transform":[{"filter":{"field":"sp","equal":"OVIARI"}},{"fold":["lo","mid","hi"],"as":["band","value"]}],"mark":{"type":"line","color":"#2f5264","strokeWidth":1.1,"interpolate":"monotone"},"encoding":{"x":{"field":"year","type":"quantitative","scale":{"domain":[1946.5,2023.5],"nice":false},"axis":{"values":[1960,1980,2000,2020],"format":"d","title":null}},"y":{"field":"value","type":"quantitative","scale":{"zero":false,"nice":false,"padding":9},"axis":{"values":[8,10,12,14],"format":"d","title":null}},"detail":{"field":"band"}}},
{"width":237,"height":202,"data":{"name":"curves"},"transform":[{"filter":{"field":"sp","equal":"RANTAR"}},{"fold":["lo","mid","hi"],"as":["band","value"]}],"mark":{"type":"line","color":"#585858","strokeWidth":1.1,"interpolate":"monotone"},"encoding":{"x":{"field":"year","type":"quantitative","scale":{"domain":[1946.5,2023.5],"nice":false},"axis":{"values":[1960,1980,2000,2020],"format":"d","title":null}},"y":{"field":"value","type":"quantitative","scale":{"zero":false,"nice":false,"padding":9},"axis":{"values":[0.04,0.06,0.08,0.1],"format":".2f","title":null}},"detail":{"field":"band"}}},
{"width":237,"height":202,"data":{"name":"curves"},"transform":[{"filter":{"field":"sp","equal":"total"}},{"fold":["lo","mid","hi"],"as":["band","value"]}],"mark":{"type":"line","color":"#6b6a56","strokeWidth":1.1,"interpolate":"monotone"},"encoding":{"x":{"field":"year","type":"quantitative","scale":{"domain":[1946.5,2023.5],"nice":false},"axis":{"values":[1960,1980,2000,2020],"format":"d","title":null}},"y":{"field":"value","type":"quantitative","scale":{"zero":false,"nice":false,"padding":9},"axis":{"values":[22,24,26,28,30],"format":"d","title":null}},"detail":{"field":"band"}}}
],
"config": {
"font": "Open Sans",
"view": {"stroke": "#a8a8a8"},
"axis": {"grid": false, "labelFont": "Open Sans", "labelFontSize": 17, "labelColor": "#2f3a45", "tickColor": "#333333", "domainColor": "#333333", "tickSize": 4, "labelPadding": 3}
}
}
